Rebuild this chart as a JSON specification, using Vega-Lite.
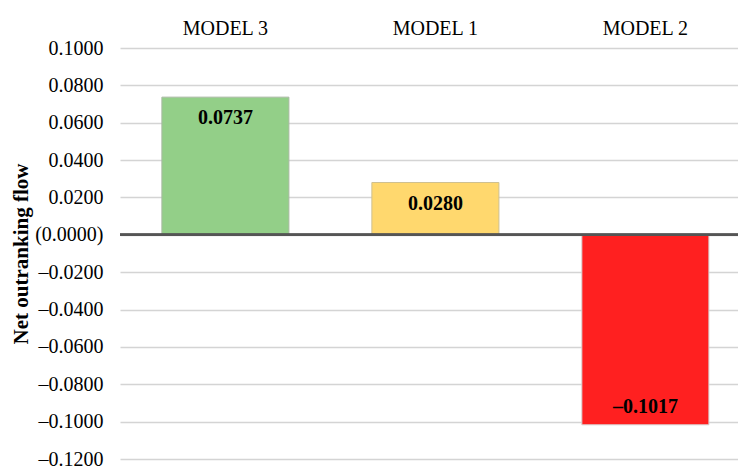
{
  "$schema": "https://vega.github.io/schema/vega-lite/v6.json",
  "autosize": {"type": "none"},
  "padding": {"left": 120, "top": 48, "right": 0, "bottom": 9},
  "width": 618,
  "height": 411,
  "background": "white",
  "config": {
    "view": {"stroke": null},
    "font": "Liberation Serif"
  },
  "data": {
    "values": [
      {"model": "MODEL 3", "flow": 0.0737},
      {"model": "MODEL 1", "flow": 0.0280},
      {"model": "MODEL 2", "flow": -0.1017}
    ]
  },
  "transform": [
    {"calculate": "datum.flow < 0 ? '–' + format(-datum.flow, '.4f') : format(datum.flow, '.4f')", "as": "label"}
  ],
  "encoding": {
    "x": {
      "field": "model",
      "type": "nominal",
      "sort": ["MODEL 3", "MODEL 1", "MODEL 2"],
      "scale": {"paddingInner": 0.395, "paddingOuter": 0.169, "align": 0.59},
      "axis": {
        "orient": "top",
        "title": null,
        "domain": false,
        "ticks": false,
        "labelAngle": 0,
        "labelFont": "Liberation Serif",
        "labelFontSize": 20,
        "labelColor": "#000000",
        "labelPadding": 14,
        "labelBaseline": "alphabetic",
        "labelOverlap": false,
        "labelFlush": false
      }
    },
    "y": {
      "field": "flow",
      "type": "quantitative",
      "scale": {"domain": [-0.12, 0.1], "nice": false, "zero": false},
      "axis": {
        "values": [-0.12, -0.1, -0.08, -0.06, -0.04, -0.02, 0, 0.02, 0.04, 0.06, 0.08, 0.1],
        "labelExpr": "datum.value == 0 ? '(0.0000)' : (datum.value < 0 ? '–' + format(-datum.value, '.4f') : format(datum.value, '.4f'))",
        "labelOverlap": false,
        "labelFlush": false,
        "labelBound": false,
        "domain": false,
        "ticks": false,
        "grid": true,
        "gridColor": "#d4d4d4",
        "gridWidth": 1.5,
        "labelFont": "Liberation Serif",
        "labelFontSize": 20,
        "labelColor": "#000000",
        "labelPadding": 17,
        "title": "Net outranking flow",
        "titleFont": "Liberation Serif",
        "titleFontSize": 21,
        "titleFontWeight": "bold",
        "titleColor": "#000000",
        "titlePadding": 3
      }
    }
  },
  "layer": [
    {
      "mark": {"type": "bar", "strokeWidth": 1},
      "encoding": {
        "fill": {
          "field": "model",
          "type": "nominal",
          "scale": {"domain": ["MODEL 3", "MODEL 1", "MODEL 2"], "range": ["#93cf88", "#ffd86e", "#ff2020"]},
          "legend": null
        },
        "stroke": {
          "field": "model",
          "type": "nominal",
          "scale": {"domain": ["MODEL 3", "MODEL 1", "MODEL 2"], "range": ["#a9b8a3", "#cfc090", "#d8d0d0"]},
          "legend": null
        }
      }
    },
    {
      "mark": {"type": "rule", "color": "#555555", "strokeWidth": 2.5},
      "encoding": {"y": {"datum": 0, "type": "quantitative"}, "x": {"value": 0}, "x2": {"value": 618}}
    },
    {
      "transform": [{"filter": "datum.flow >= 0"}],
      "mark": {"type": "text", "fontWeight": "bold", "fontSize": 20, "font": "Liberation Serif", "baseline": "middle", "dy": 21, "color": "#000000"},
      "encoding": {
        "text": {"field": "label"}
      }
    },
    {
      "transform": [{"filter": "datum.flow < 0"}],
      "mark": {"type": "text", "fontWeight": "bold", "fontSize": 20, "font": "Liberation Serif", "baseline": "middle", "dy": -18, "color": "#000000"},
      "encoding": {
        "text": {"field": "label"}
      }
    }
  ]
}
